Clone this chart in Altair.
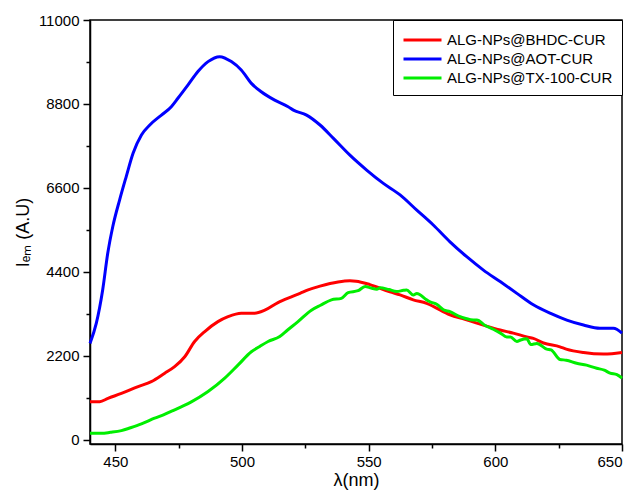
import altair as alt
import pandas as pd

series_names = ["ALG-NPs@BHDC-CUR", "ALG-NPs@AOT-CUR", "ALG-NPs@TX-100-CUR"]
series_colors = ["#ff0000", "#0000ff", "#00ee00"]

wl_aot = [440, 442.5, 445, 447, 449, 451.7, 454.3, 457, 460.3, 463.6, 468.2, 472.1, 474.7,
          478.7, 482.6, 486.6, 491.2, 495.8, 499.7, 503.7, 507.6, 512.9, 518.2, 520.3, 525.5,
          530.8, 536.1, 542.6, 549.2, 555.8, 562.4, 569, 575.5, 582.1, 588.7, 595.3, 601.9,
          608.5, 615, 621.6, 628.2, 634.8, 641.3, 646.6, 650]
em_aot = [2530, 3060, 3930, 4890, 5590, 6290, 6900, 7510, 7990, 8250, 8510, 8730, 8950,
          9300, 9650, 9910, 10040, 9910, 9690, 9340, 9120, 8900, 8730, 8640, 8510,
          8250, 7900, 7460, 7070, 6720, 6420, 6020, 5630, 5190, 4800, 4450, 4150,
          3840, 3540, 3320, 3140, 3010, 2925, 2925, 2800]

wl_bhdc = [440, 443.8, 447.1, 452.4, 459, 464.2, 469.5, 473.4, 477.4, 481.3, 485.3, 490.5,
           494.5, 499.7, 505, 509, 514.2, 519.5, 522.9, 526.1, 530.8, 537.9, 542.6, 545,
           550.5, 558.4, 562.4, 567.6, 572.9, 575.5, 582.1, 588, 592.7, 599.2, 601.9, 607.1,
           612.4, 615, 619, 625.5, 628, 634.8, 642.7, 646, 650]
em_bhdc = [1000, 1004, 1090, 1220, 1400, 1530, 1750, 1920, 2180, 2580, 2840, 3100,
           3230, 3320, 3320, 3400, 3600, 3750, 3840, 3930, 4030, 4140, 4170, 4160,
           4070, 3880, 3800, 3670, 3580, 3500, 3280, 3160, 3060, 2930, 2880, 2800,
           2700, 2660, 2540, 2440, 2380, 2290, 2250, 2260, 2290]

wl_tx = [440, 444.5, 448, 452.4, 456, 460.3, 465.5, 469, 473.4, 477, 480, 486.6, 493.2,
         498.4, 503.7, 507, 510.3, 514.9, 518, 522.1, 527.4, 531, 535.3, 539.2, 541.9,
         545.8, 548.6, 551, 553.2, 554.5, 558, 561.1, 563.7, 565, 567.6, 569, 572.9,
         574.2, 577, 579.5, 582.1, 586.1, 588, 591.3, 592.7, 596, 599.2, 602, 604.5,
         606, 608.5, 610, 612.4, 614, 616.4, 620.3, 622, 625.5, 628, 632.1, 636, 640,
         643, 645.3, 648, 650]
em_tx = [175, 175, 200, 245, 320, 420, 570, 660, 790, 900, 1000, 1270, 1620,
         1960, 2310, 2450, 2580, 2710, 2880, 3100, 3400, 3530, 3670, 3710, 3860,
         3910, 4020, 3980, 3950, 3990, 3940, 3890, 3920, 3930, 3800, 3840, 3670,
         3620, 3550, 3410, 3360, 3230, 3190, 3140, 3140, 3000, 2900, 2800, 2700,
         2700, 2580, 2620, 2650, 2500, 2530, 2380, 2360, 2110, 2090, 2010, 1960, 1880,
         1830, 1750, 1710, 1620]

y_ticks = [0, 1100, 2200, 3300, 4400, 5500, 6600, 7700, 8800, 9900, 11000]
x_ticks = [450, 475, 500, 525, 550, 575, 600, 625, 650]

rows = []
for name, wl, em in [(series_names[0], wl_bhdc, em_bhdc),
                     (series_names[1], wl_aot, em_aot),
                     (series_names[2], wl_tx, em_tx)]:
    for i, (a, b) in enumerate(zip(wl, em)):
        rows.append({"series": name, "wl": a, "em": b, "order": i})
df = pd.DataFrame(rows)

font = "Liberation Sans"

chart = alt.Chart(df).mark_line(strokeWidth=3, interpolate="monotone").encode(
    x=alt.X("wl:Q", scale=alt.Scale(domain=[440, 650], nice=False, zero=False),
            axis=alt.Axis(values=x_ticks, title="λ(nm)",
                          labelExpr="datum.value % 50 === 0 ? datum.label : ''",
                          tickSize={"condition": {"test": "datum.value % 50 !== 0", "value": 4}, "value": 7},
                          labelPadding=3, titlePadding=2)),
    y=alt.Y("em:Q", scale=alt.Scale(domain=[-105, 11000], nice=False, zero=False),
            axis=alt.Axis(values=y_ticks, title="Iₑₘ (A.U)", format="d",
                          labelExpr="datum.value % 2200 === 0 ? datum.label : ''",
                          tickSize={"condition": {"test": "datum.value % 2200 !== 0", "value": 4}, "value": 7},
                          labelPadding=4, titlePadding=6)),
    color=alt.Color("series:N",
                    scale=alt.Scale(domain=series_names, range=series_colors),
                    legend=alt.Legend(title=None, orient="top-right", offset=0,
                                      symbolType="M-1,0H3", symbolStrokeWidth=3,
                                      symbolSize=361, labelFontSize=15, labelFont=font,
                                      labelColor="black", labelOffset=23, labelLimit=400,
                                      strokeColor="black", padding=9,
                                      fillColor="white", rowPadding=0)),
    detail="series:N",
    order="order:Q",
).properties(
    width=532, height=424,
    autosize=alt.AutoSizeParams(type="none"),
    padding={"left": 82, "top": 12, "right": 6, "bottom": 50},
).configure_view(
    stroke="black", strokeWidth=1.5
).configure_axis(
    grid=False, domainColor="black", domainWidth=1.5, tickColor="black", tickWidth=1.5,
    labelFont=font, labelFontSize=15, labelColor="black",
    titleFont=font, titleFontSize=18, titleFontWeight="normal", titleColor="black",
)

chart.save("out.html", embed_options={"renderer": "svg", "actions": False})
